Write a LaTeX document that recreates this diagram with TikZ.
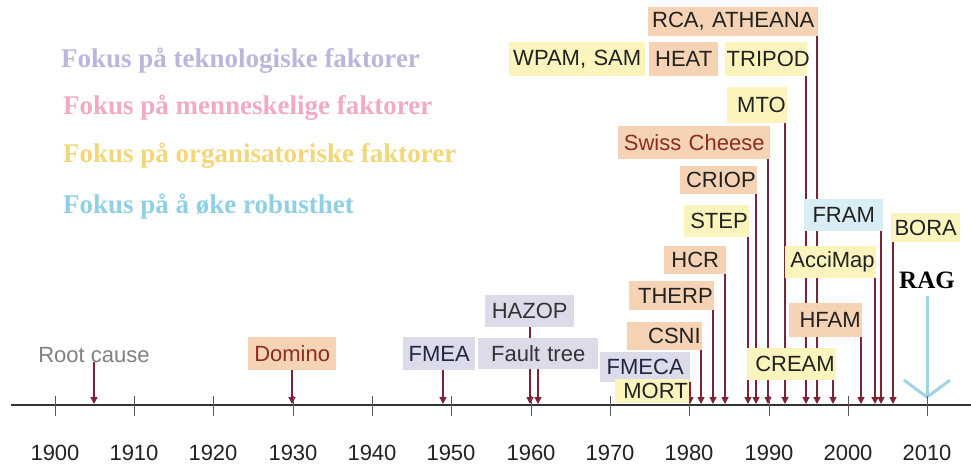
\documentclass[tikz,border=0pt]{standalone}
\usepackage{fontspec}
\setmainfont{Liberation Serif}
\setsansfont{Liberation Sans}
\usetikzlibrary{arrows.meta,backgrounds}
\definecolor{peach}{HTML}{F7D3B5}
\definecolor{ylw}{HTML}{FBF4BD}
\definecolor{lav}{HTML}{DCDBEA}
\definecolor{lblue}{HTML}{D9EEF4}
\definecolor{arrowred}{HTML}{7D2335}
\definecolor{boxtext}{HTML}{222222}
\definecolor{brownred}{HTML}{8A2E1E}
\definecolor{navy}{HTML}{232642}
\definecolor{legA}{HTML}{BCB6DC}
\definecolor{legB}{HTML}{F2AAC4}
\definecolor{legC}{HTML}{F2D77A}
\definecolor{legD}{HTML}{8FD0E6}
\definecolor{ragblue}{HTML}{9FD3E6}
\begin{document}
\begin{tikzpicture}[x=1pt,y=-1pt,
  box/.style={rectangle, inner xsep=1.5pt, inner ysep=0pt, anchor=north west,
    font=\sffamily\fontsize{22}{24}\selectfont, text=boxtext},
  arr/.style={draw=arrowred, line width=1.3pt, -{Triangle[width=7pt,length=7pt]}},
  legend/.style={anchor=base west, font=\bfseries\fontsize{27}{30}\selectfont, inner sep=0pt},
  year/.style={anchor=base, font=\sffamily\fontsize{22}{24}\selectfont, text=boxtext, inner sep=0pt},
  tickmark/.style={draw=black!65, line width=1pt},
  ragarr/.style={draw=ragblue, line width=3pt, -{Straight Barb[length=17pt,width=46pt]}}
]
\useasboundingbox (0,0) rectangle (971,465);

% legend
\node[legend, text=legA] (leg1) at (61,68) {Fokus på teknologiske faktorer};
\node[legend, text=legB] (leg2) at (63,115) {Fokus på menneskelige faktorer};
\node[legend, text=legC] (leg3) at (63,163) {Fokus på organisatoriske faktorer};
\node[legend, text=legD] (leg4) at (63,213) {Fokus på å øke robusthet};

% axis
\coordinate (axL) at (11,405);
\coordinate (axR) at (971,405);
\draw[draw=black!80, line width=1.2pt] (axL) -- (axR);
\foreach \yr/\xx in {1900/55,1910/134,1920/213,1930/293,1940/372,1950/451,1960/531,1970/610,1980/689,1990/769,2000/848,2010/927}{
  \coordinate (t\yr) at (\xx,405);
  \draw[tickmark] (\xx,396) -- (\xx,416);
  \node[year] (y\yr) at (\xx,460) {\yr};
}

% boxes
\node[box, fill=peach, minimum width=170pt, minimum height=29pt, text width=167pt, align=center] (rca) at (648,7) {RCA, ATHEANA};
\node[box, fill=ylw, minimum width=136pt, minimum height=34pt, text width=133pt, align=center] (wpam) at (509,42) {WPAM, SAM};
\node[box, fill=peach, minimum width=69pt, minimum height=34pt, text width=66pt, align=center] (heat) at (649,42) {HEAT};
\node[box, fill=ylw, minimum width=82pt, minimum height=34pt, text width=79pt, align=center] (tripod) at (725,42) {TRIPOD};
\node[box, fill=ylw, minimum width=60pt, minimum height=36pt, text width=57pt, align=right] (mto) at (727,87) {MTO};
\node[box, fill=peach, minimum width=152pt, minimum height=33pt, text width=149pt, align=center, text=brownred] (swiss) at (618,126) {Swiss Cheese};
\node[box, fill=peach, minimum width=77pt, minimum height=28pt, text width=74pt, align=right] (criop) at (680,166) {CRIOP};
\node[box, fill=ylw, minimum width=65pt, minimum height=32pt, text width=62pt, align=right] (step) at (684,205) {STEP};
\node[box, fill=peach, minimum width=62pt, minimum height=28pt, text width=59pt, align=center] (hcr) at (664,246) {HCR};
\node[box, fill=peach, minimum width=85pt, minimum height=29pt, text width=82pt, align=right] (therp) at (629,281) {THERP};
\node[box, fill=peach, minimum width=75pt, minimum height=28pt, text width=72pt, align=right] (csni) at (627,322) {CSNI};
\node[box, fill=lav, minimum width=90pt, minimum height=30pt, text width=87pt, align=center, text=navy] (fmeca) at (600,352) {FMECA};
\node[box, fill=ylw, minimum width=74pt, minimum height=24pt, text width=71pt, align=right] (mort) at (615,379) {MORT};
\node[box, fill=ylw, minimum width=89pt, minimum height=32pt, text width=86pt, align=right] (cream) at (747,348) {CREAM};
\node[box, fill=peach, minimum width=73pt, minimum height=34pt, text width=70pt, align=right] (hfam) at (789,303) {HFAM};
\node[box, fill=ylw, minimum width=91pt, minimum height=32pt, text width=88pt, align=right] (accimap) at (785,246) {AcciMap};
\node[box, fill=lblue, minimum width=79pt, minimum height=32pt, text width=76pt, align=center] (fram) at (804,199) {FRAM};
\node[box, fill=ylw, minimum width=69pt, minimum height=29pt, text width=66pt, align=center] (bora) at (891,213) {BORA};
\node[box, fill=peach, minimum width=88pt, minimum height=33pt, text width=85pt, align=center, text=brownred] (domino) at (248,337) {Domino};
\node[box, fill=lav, minimum width=72pt, minimum height=33pt, text width=69pt, align=center, text=navy] (fmea) at (403,337) {FMEA};
\node[box, fill=lav, minimum width=89pt, minimum height=32pt, text width=86pt, align=center, text=black!80] (hazop) at (485,295) {HAZOP};
\node[box, fill=lav, minimum width=120pt, minimum height=31pt, text width=117pt, align=center, text=black!80] (fault) at (478,338) {Fault tree};
\node[anchor=base, inner sep=0pt, font=\sffamily\fontsize{22}{24}\selectfont, text=black!50] (root) at (94,362) {Root cause};
\node[anchor=base, inner sep=0pt, font=\bfseries\fontsize{25}{28}\selectfont, text=black] (rag) at (927,288) {RAG};

% arrows (behind boxes)
\begin{pgfonlayer}{background}
\foreach \nm/\xx in {root/94,domino/292,fmea/443,hazop/530,fault/538,fmeca/690,csni/701,therp/713,hcr/725,step/748,criop/756,swiss/768,mto/785,tripod/806,rca/817,cream/833,hfam/861,accimap/875,fram/881,bora/893}{
  \coordinate (a\nm) at (\xx,404);
  \draw[arr] (\nm.south -| a\nm) -- (a\nm);
}
\coordinate (ragtip) at (927,399);
\draw[ragarr, shorten <=8pt] (rag.south) -- (ragtip);
\end{pgfonlayer}
\end{tikzpicture}
\end{document}
